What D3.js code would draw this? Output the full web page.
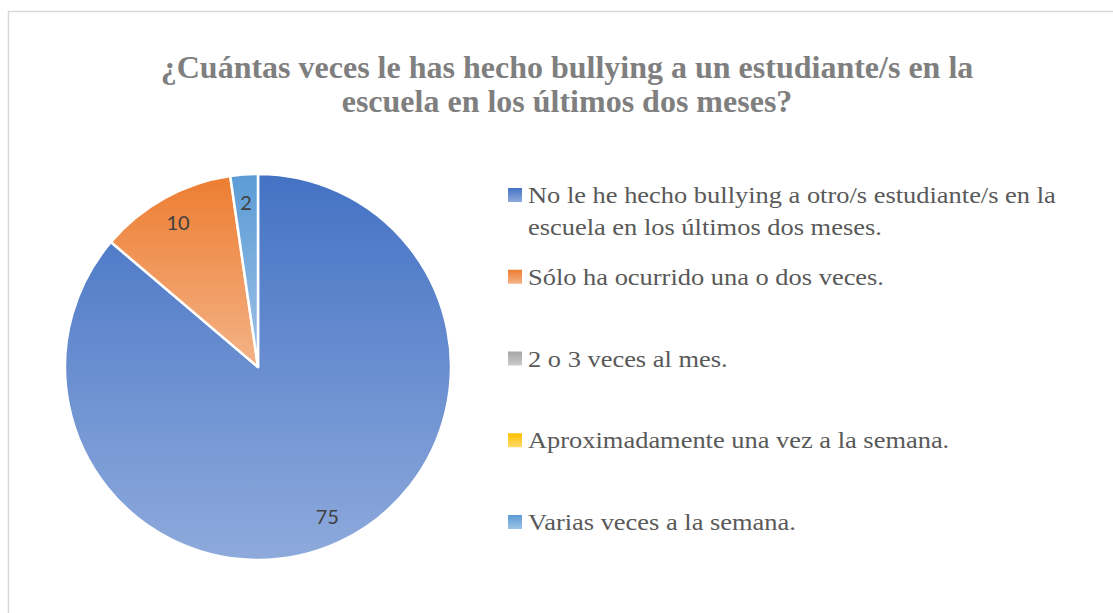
<!DOCTYPE html>
<html>
<head>
<meta charset="utf-8">
<script src="https://cdn.jsdelivr.net/npm/d3@7"></script>
<style>
  body { margin: 0; background: #fff; }
  svg { display: block; }
</style>
</head>
<body>
<div id="chart"></div>
<script>
// chart data
const titleLines = ["¿Cuántas veces le has hecho bullying a un estudiante/s en la",
                    "escuela en los últimos dos meses?"];
const categories = [
  "No le he hecho bullying a otro/s estudiante/s en la escuela en los últimos dos meses.",
  "Sólo ha ocurrido una o dos veces.",
  "2 o 3 veces al mes.",
  "Aproximadamente una vez a la semana.",
  "Varias veces a la semana."
];
const values = [75, 10, 0, 0, 2];
const topColors = ["#4472C4", "#ED7D31", "#A5A5A5", "#FFC000", "#5B9BD5"];
const bottomColors = ["#8EAADC", "#F4B387", "#CACACA", "#FFDA6A", "#9DC3E6"];

const width = 1113, height = 613;
const cx = 258, cy = 367, radius = 193;
const legendStretch = 1.15; // legend text in the picture is wider than plain Times

let svg = d3.select("#chart").append("svg")
    .attr("width", width)
    .attr("height", height);

// chart area border (runs off the right/bottom of the picture)
svg.append("rect")
    .attr("x", 8.5).attr("y", 11.5)
    .attr("width", width).attr("height", height)
    .attr("fill", "none")
    .attr("stroke", "#D9D9D9")
    .attr("stroke-width", 1.5);

// gradients, one per category
let defs = svg.append("defs");
categories.forEach((c, i) => {
    let g = defs.append("linearGradient")
        .attr("id", "grad" + i)
        .attr("x1", 0).attr("y1", 0).attr("x2", 0).attr("y2", 1);
    g.append("stop").attr("offset", "0%").attr("stop-color", topColors[i]);
    g.append("stop").attr("offset", "100%").attr("stop-color", bottomColors[i]);
});

// title
svg.append("g").selectAll("text")
    .data(titleLines)
    .join("text")
    .attr("x", 567)
    .attr("y", (d, i) => 78 + i * 34)
    .attr("text-anchor", "middle")
    .attr("font-family", "'Liberation Serif', 'Times New Roman', serif")
    .attr("font-weight", "bold")
    .attr("font-size", "32px")
    .attr("fill", "#7F7F7F")
    .text(d => d);

// pie
let pieData = categories.map((c, i) => ({ name: c, value: values[i], idx: i }));
let pie = d3.pie().value(d => d.value).sort(null);
let arc = d3.arc().innerRadius(0).outerRadius(radius);
let labelArc = d3.arc().innerRadius(radius * 0.855).outerRadius(radius * 0.855);

let arcs = pie(pieData).filter(d => d.data.value > 0);

let pieG = svg.append("g").attr("transform", `translate(${cx},${cy})`);
pieG.selectAll("path")
    .data(arcs)
    .join("path")
    .attr("d", arc)
    .attr("fill", d => `url(#grad${d.data.idx})`)
    .attr("stroke", "#fff")
    .attr("stroke-width", 2.5)
    .attr("stroke-linejoin", "round");

pieG.selectAll("text")
    .data(arcs)
    .join("text")
    .attr("transform", d => `translate(${labelArc.centroid(d)})`)
    .attr("text-anchor", "middle")
    .attr("dy", "0.36em")
    .attr("font-family", "Lato, 'Liberation Sans', sans-serif")
    .attr("font-size", "20px")
    .attr("fill", "#404040")
    .text(d => d.data.value);

// legend
let legendY = d3.scalePoint()
    .domain(d3.range(categories.length))
    .range([203, 530]);
let legend = svg.append("g");
let items = legend.selectAll("g")
    .data(categories)
    .join("g")
    .attr("transform", (d, i) => `translate(508,${legendY(i)})`);

items.append("rect")
    .attr("x", 0).attr("y", -15)
    .attr("width", 14).attr("height", 14)
    .attr("fill", (d, i) => `url(#grad${i})`);

items.append("text")
    .attr("transform", `translate(20,0) scale(${legendStretch},1)`)
    .attr("font-family", "'Liberation Serif', 'Times New Roman', serif")
    .attr("font-size", "23px")
    .attr("fill", "#595959")
    .each(function(d) {
        // wrap long entries
        let t = d3.select(this);
        let words = d.split(" ");
        let line = [];
        let tspan = t.append("tspan").attr("x", 0).attr("dy", 0);
        words.forEach(w => {
            line.push(w);
            tspan.text(line.join(" "));
            if (tspan.node().getComputedTextLength() * legendStretch > 540 && line.length > 1) {
                line.pop();
                tspan.text(line.join(" "));
                line = [w];
                tspan = t.append("tspan").attr("x", 0).attr("dy", 32).text(w);
            }
        });
    });
</script>
</body>
</html>
